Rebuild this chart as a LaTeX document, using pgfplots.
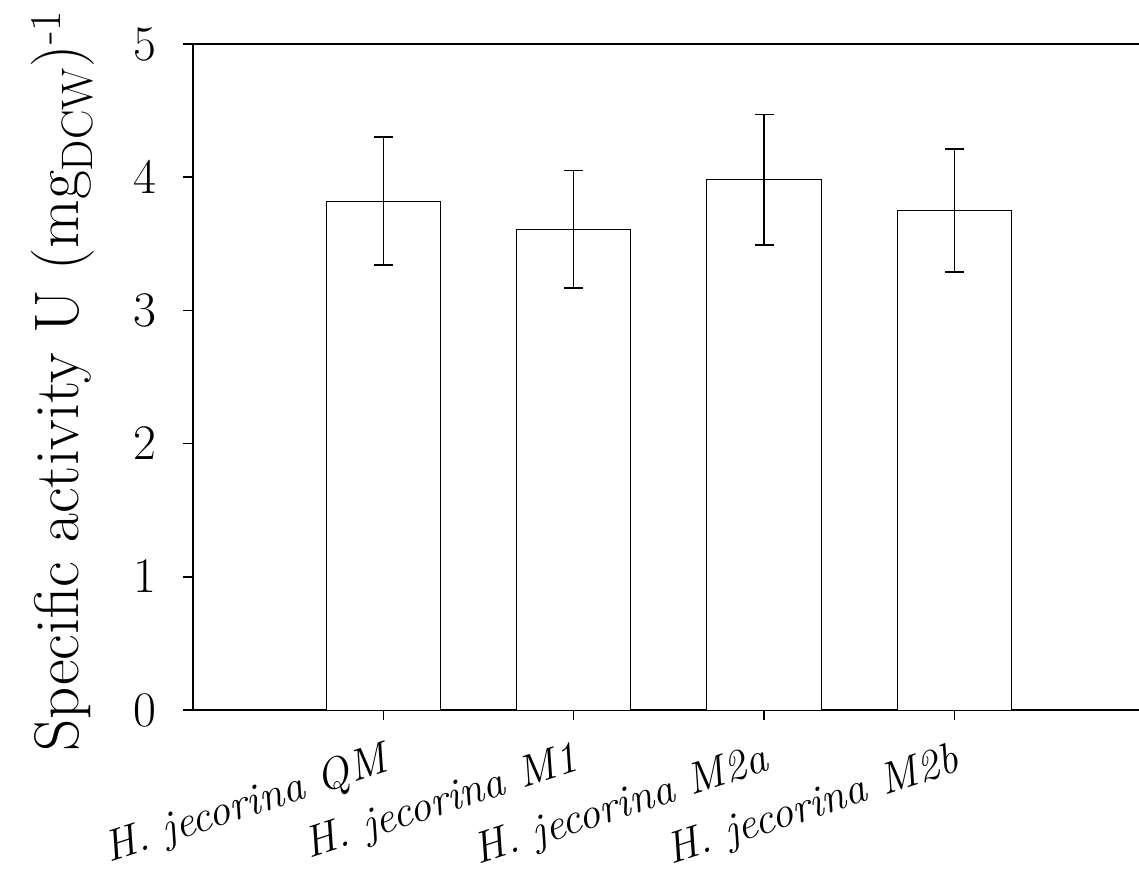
\documentclass[border=0pt]{standalone}
\usepackage{pgfplots}
\pgfplotsset{compat=1.18}

\begin{document}
\begin{tikzpicture}
\begin{axis}[
    scale only axis,
    width=473pt, height=333pt,
    xmin=-1, xmax=3.97,
    ymin=0, ymax=5,
    axis x line=box,
    axis y line=left,
    y axis line style={-},
    axis line style={line width=0.8pt, black},
    xtick={0,1,2,3},
    xtick pos=bottom,
    ytick={0,1,2,3,4,5},
    tick align=outside,
    major tick length=5pt,
    tick style={line width=0.8pt, black},
    yticklabel style={font=\fontsize{25.5}{30}\selectfont, inner sep=0pt, xshift=-13pt},
    xticklabels={H. jecorina QM, H. jecorina M1, H. jecorina M2a, H. jecorina M2b},
    xticklabel style={font=\fontsize{22}{26}\selectfont\itshape, yshift=-8pt, rotate=18, anchor=north east, inner sep=2pt},
    ylabel={Specific activity U (mg\textsubscript{DCW})\textsuperscript{-1}},
    every axis y label/.style={at={(rel axis cs:0,0.5)}, xshift=-57pt, yshift=-2pt, rotate=90, anchor=base, font=\fontsize{31.5}{37}\selectfont},
]
\addplot[ybar, bar width=0.6, fill=white, draw=black, line width=0.5pt,
    error bars/.cd, y dir=both, y explicit,
    error bar style={line width=0.8pt, black},
    error mark options={rotate=90, mark size=4.75pt, line width=0.8pt, black}]
coordinates {
    (0,3.82) +- (0,0.48)
    (1,3.61) +- (0,0.44)
    (2,3.98) +- (0,0.49)
    (3,3.75) +- (0,0.46)
};
\coordinate (bl) at (rel axis cs:0,0);
\end{axis}
\pgfresetboundingbox
\path (bl) ++(-96.5pt,-84pt) rectangle ++(569.5pt,439pt);
\end{tikzpicture}
\end{document}
